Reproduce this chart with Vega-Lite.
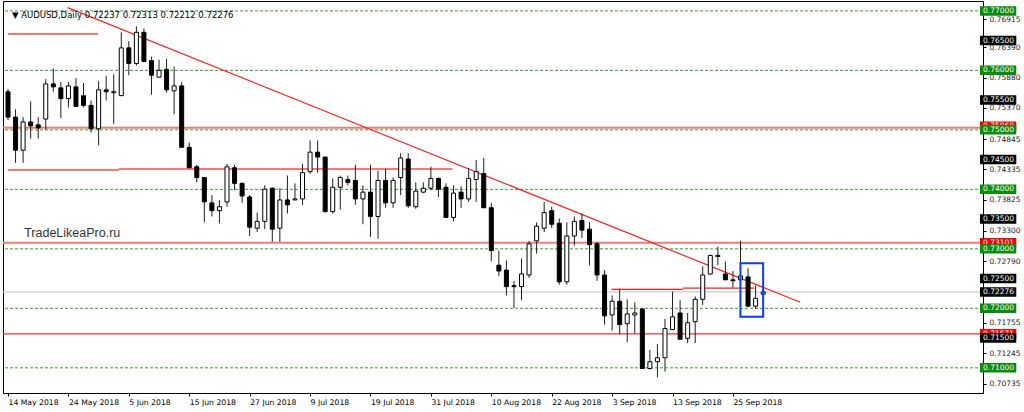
{
  "$schema": "https://vega.github.io/schema/vega-lite/v6.json",
  "width": 980,
  "height": 392,
  "autosize": "none",
  "padding": {"left": 3, "top": 1, "right": 41, "bottom": 19},
  "background": "#ffffff",
  "config": {"view": {"stroke": "#000000", "strokeWidth": 1}},
  "resolve": {"axis": {"x": "independent", "y": "independent"}},
  "datasets": {
    "candles": [
      {"i":0,"o":0.75641,"h":0.7569,"l":0.75165,"c":0.75215},
      {"i":1,"o":0.75215,"h":0.75346,"l":0.74445,"c":0.74658},
      {"i":2,"o":0.74658,"h":0.75215,"l":0.74445,"c":0.75133},
      {"i":3,"o":0.75133,"h":0.75477,"l":0.74854,"c":0.75067},
      {"i":4,"o":0.75084,"h":0.75215,"l":0.74854,"c":0.75034},
      {"i":5,"o":0.75182,"h":0.75853,"l":0.75002,"c":0.75772},
      {"i":6,"o":0.75772,"h":0.76034,"l":0.75641,"c":0.75722},
      {"i":7,"o":0.75706,"h":0.75804,"l":0.75198,"c":0.75526},
      {"i":8,"o":0.75526,"h":0.75804,"l":0.75378,"c":0.75739},
      {"i":9,"o":0.75722,"h":0.7587,"l":0.75395,"c":0.75395},
      {"i":10,"o":0.75575,"h":0.75788,"l":0.75378,"c":0.75411},
      {"i":11,"o":0.75411,"h":0.75493,"l":0.74953,"c":0.75018},
      {"i":12,"o":0.75018,"h":0.75821,"l":0.7474,"c":0.75673},
      {"i":13,"o":0.75673,"h":0.75903,"l":0.75493,"c":0.75641},
      {"i":14,"o":0.75624,"h":0.75935,"l":0.751,"c":0.75641},
      {"i":15,"o":0.75575,"h":0.7664,"l":0.75575,"c":0.76378},
      {"i":16,"o":0.76378,"h":0.76492,"l":0.75919,"c":0.76116},
      {"i":17,"o":0.76116,"h":0.76738,"l":0.76083,"c":0.7664},
      {"i":18,"o":0.7664,"h":0.76705,"l":0.76148,"c":0.76148},
      {"i":19,"o":0.76165,"h":0.7623,"l":0.75591,"c":0.75919},
      {"i":20,"o":0.75886,"h":0.76181,"l":0.75886,"c":0.76001},
      {"i":21,"o":0.76017,"h":0.76197,"l":0.75624,"c":0.75673},
      {"i":22,"o":0.75657,"h":0.76066,"l":0.75264,"c":0.75739},
      {"i":23,"o":0.75739,"h":0.75804,"l":0.74707,"c":0.74707},
      {"i":24,"o":0.74707,"h":0.74789,"l":0.74363,"c":0.74363},
      {"i":25,"o":0.74379,"h":0.74412,"l":0.74117,"c":0.74199},
      {"i":26,"o":0.74199,"h":0.74199,"l":0.73446,"c":0.7379},
      {"i":27,"o":0.73773,"h":0.73904,"l":0.73544,"c":0.73642},
      {"i":28,"o":0.73642,"h":0.73822,"l":0.73429,"c":0.73708},
      {"i":29,"o":0.7379,"h":0.74428,"l":0.73708,"c":0.74379},
      {"i":30,"o":0.74363,"h":0.74412,"l":0.73986,"c":0.74101},
      {"i":31,"o":0.74101,"h":0.74117,"l":0.73773,"c":0.73888},
      {"i":32,"o":0.73871,"h":0.73904,"l":0.73216,"c":0.73364},
      {"i":33,"o":0.73347,"h":0.73609,"l":0.73282,"c":0.73462},
      {"i":34,"o":0.73462,"h":0.74068,"l":0.73331,"c":0.74003},
      {"i":35,"o":0.74019,"h":0.74035,"l":0.73118,"c":0.73331},
      {"i":36,"o":0.73347,"h":0.74019,"l":0.73118,"c":0.73822},
      {"i":37,"o":0.73822,"h":0.74232,"l":0.73593,"c":0.7374},
      {"i":38,"o":0.73822,"h":0.74101,"l":0.73822,"c":0.73839},
      {"i":39,"o":0.73839,"h":0.74428,"l":0.7374,"c":0.74281},
      {"i":40,"o":0.74297,"h":0.74822,"l":0.74265,"c":0.74625},
      {"i":41,"o":0.74625,"h":0.74822,"l":0.74281,"c":0.74543},
      {"i":42,"o":0.74543,"h":0.74543,"l":0.73609,"c":0.73626},
      {"i":43,"o":0.73626,"h":0.74183,"l":0.73593,"c":0.74035},
      {"i":44,"o":0.74035,"h":0.74232,"l":0.73659,"c":0.74199},
      {"i":45,"o":0.74166,"h":0.74232,"l":0.74068,"c":0.74117},
      {"i":46,"o":0.7415,"h":0.74412,"l":0.7374,"c":0.73839},
      {"i":47,"o":0.73839,"h":0.74068,"l":0.73413,"c":0.73953},
      {"i":48,"o":0.73953,"h":0.74412,"l":0.732,"c":0.73544},
      {"i":49,"o":0.73544,"h":0.74314,"l":0.73167,"c":0.7415},
      {"i":50,"o":0.7415,"h":0.74346,"l":0.73691,"c":0.73773},
      {"i":51,"o":0.73773,"h":0.74199,"l":0.73691,"c":0.7415},
      {"i":52,"o":0.74199,"h":0.74609,"l":0.73904,"c":0.74527},
      {"i":53,"o":0.7451,"h":0.74609,"l":0.73691,"c":0.73724},
      {"i":54,"o":0.73708,"h":0.74117,"l":0.73675,"c":0.7397},
      {"i":55,"o":0.73953,"h":0.74117,"l":0.73937,"c":0.74019},
      {"i":56,"o":0.74019,"h":0.74379,"l":0.73986,"c":0.74183},
      {"i":57,"o":0.74183,"h":0.74199,"l":0.73871,"c":0.74003},
      {"i":58,"o":0.74035,"h":0.74101,"l":0.73528,"c":0.73528},
      {"i":59,"o":0.73528,"h":0.74068,"l":0.73462,"c":0.73937},
      {"i":60,"o":0.73953,"h":0.74052,"l":0.73691,"c":0.73839},
      {"i":61,"o":0.73839,"h":0.74363,"l":0.7379,"c":0.74183},
      {"i":62,"o":0.74166,"h":0.74494,"l":0.7379,"c":0.74297},
      {"i":63,"o":0.74265,"h":0.74527,"l":0.73691,"c":0.73691},
      {"i":64,"o":0.73691,"h":0.73773,"l":0.7279,"c":0.72971},
      {"i":65,"o":0.72725,"h":0.72971,"l":0.72545,"c":0.72627},
      {"i":66,"o":0.72643,"h":0.72807,"l":0.72217,"c":0.72365},
      {"i":67,"o":0.72381,"h":0.72463,"l":0.72004,"c":0.72365},
      {"i":68,"o":0.72365,"h":0.72839,"l":0.72135,"c":0.72577},
      {"i":69,"o":0.72561,"h":0.73134,"l":0.72512,"c":0.73085},
      {"i":70,"o":0.73134,"h":0.73446,"l":0.72921,"c":0.7338},
      {"i":71,"o":0.73347,"h":0.7379,"l":0.73282,"c":0.73609},
      {"i":72,"o":0.73642,"h":0.73708,"l":0.73347,"c":0.73413},
      {"i":73,"o":0.73429,"h":0.73511,"l":0.72397,"c":0.72446},
      {"i":74,"o":0.72446,"h":0.73446,"l":0.72397,"c":0.73216},
      {"i":75,"o":0.73216,"h":0.73544,"l":0.73052,"c":0.73462},
      {"i":76,"o":0.73478,"h":0.73593,"l":0.73184,"c":0.73315},
      {"i":77,"o":0.73331,"h":0.73446,"l":0.72725,"c":0.73069},
      {"i":78,"o":0.73085,"h":0.73118,"l":0.72463,"c":0.72561},
      {"i":79,"o":0.72561,"h":0.72643,"l":0.71726,"c":0.71873},
      {"i":80,"o":0.71889,"h":0.72217,"l":0.71627,"c":0.72119},
      {"i":81,"o":0.72119,"h":0.72332,"l":0.71562,"c":0.71726},
      {"i":82,"o":0.71742,"h":0.72152,"l":0.71431,"c":0.71906},
      {"i":83,"o":0.71889,"h":0.72102,"l":0.71578,"c":0.71922},
      {"i":84,"o":0.71988,"h":0.71988,"l":0.70989,"c":0.70989},
      {"i":85,"o":0.70989,"h":0.713,"l":0.70972,"c":0.71103},
      {"i":86,"o":0.71103,"h":0.71398,"l":0.70841,"c":0.71169},
      {"i":87,"o":0.71169,"h":0.71824,"l":0.70939,"c":0.7166},
      {"i":88,"o":0.71644,"h":0.72283,"l":0.71644,"c":0.71857},
      {"i":89,"o":0.71922,"h":0.72135,"l":0.7148,"c":0.7148},
      {"i":90,"o":0.71496,"h":0.71922,"l":0.71414,"c":0.71758},
      {"i":91,"o":0.71775,"h":0.72201,"l":0.71414,"c":0.72152},
      {"i":92,"o":0.72152,"h":0.72708,"l":0.72053,"c":0.72561},
      {"i":93,"o":0.72577,"h":0.72905,"l":0.72561,"c":0.72889},
      {"i":94,"o":0.72889,"h":0.73036,"l":0.72725,"c":0.72872},
      {"i":95,"o":0.72577,"h":0.7279,"l":0.72479,"c":0.72479},
      {"i":96,"o":0.72479,"h":0.72627,"l":0.72348,"c":0.72463},
      {"i":97,"o":0.72479,"h":0.73134,"l":0.72266,"c":0.72545},
      {"i":98,"o":0.72528,"h":0.72676,"l":0.72021,"c":0.72037},
      {"i":99,"o":0.72037,"h":0.72381,"l":0.71988,"c":0.72168},
      {"i":100,"o":0.72237,"h":0.72313,"l":0.72212,"c":0.72276}
    ]
  },
  "layer": [
    {
      "data": {"values": [{"p":0.77},{"p":0.76},{"p":0.75},{"p":0.74},{"p":0.73},{"p":0.72},{"p":0.71}]},
      "mark": {"type": "rule", "color": "#3a9a3a", "strokeWidth": 1, "strokeDash": [3, 2]},
      "encoding": {
        "y": {"field": "p", "type": "quantitative", "scale": {"domain": [0.70661, 0.77082], "nice": false, "zero": false},
          "axis": {"orient": "right", "values": [0.7686, 0.7639, 0.7588, 0.7537, 0.74845, 0.74335, 0.73825, 0.733, 0.7279, 0.71755, 0.71245, 0.70735],
            "labelExpr": "datum.value > 0.768 ? '0.76915' : format(datum.value, '.5f')",
            "title": null, "grid": false, "domain": false, "tickSize": 3, "tickColor": "#000000", "labelPadding": 3,
            "labelFont": "DejaVu Sans", "labelFontSize": 7.5, "labelColor": "#1a1a2a", "labelOverlap": false, "labelBound": false}}
      }
    },
    {
      "data": {"values": [{"p":0.72276}]},
      "mark": {"type": "rule", "color": "#c0c0c0", "strokeWidth": 1},
      "encoding": {"y": {"field": "p", "type": "quantitative", "scale": {"domain": [0.70661, 0.77082], "nice": false, "zero": false}, "axis": null}}
    },
    {
      "data": {"values": [{"p":0.75034},{"p":0.73101}]},
      "mark": {"type": "rule", "color": "#f47a7a", "strokeWidth": 2},
      "encoding": {"y": {"field": "p", "type": "quantitative", "scale": {"domain": [0.70661, 0.77082], "nice": false, "zero": false}, "axis": null}}
    },
    {
      "data": {"values": [{"p":0.71571}]},
      "mark": {"type": "rule", "color": "#ff3030", "strokeWidth": 1.4},
      "encoding": {"y": {"field": "p", "type": "quantitative", "scale": {"domain": [0.70661, 0.77082], "nice": false, "zero": false}, "axis": null}}
    },
    {
      "data": {"values": [
        {"i0":0,"i1":11.93,"p":0.76612},
        {"i0":0,"i1":14.68,"p":0.74325},
        {"i0":14.68,"i1":58.85,"p":0.74342}
      ]},
      "mark": {"type": "rule", "color": "#f47a7a", "strokeWidth": 2, "clip": true},
      "encoding": {
        "x": {"field": "i0", "type": "quantitative", "scale": {"domain": [0, 128.45], "nice": false, "zero": false}, "axis": null},
        "x2": {"field": "i1"},
        "y": {"field": "p", "type": "quantitative", "scale": {"domain": [0.70661, 0.77082], "nice": false, "zero": false}, "axis": null}
      }
    },
    {
      "data": {"values": [
        {"i0":79.91,"i1":89.39,"p":0.7232},
        {"i0":89.39,"i1":98.83,"p":0.7234}
      ]},
      "mark": {"type": "rule", "color": "#ff2020", "strokeWidth": 1.2},
      "encoding": {
        "x": {"field": "i0", "type": "quantitative", "scale": {"domain": [0, 128.45], "nice": false, "zero": false}, "axis": null},
        "x2": {"field": "i1"},
        "y": {"field": "p", "type": "quantitative", "scale": {"domain": [0.70661, 0.77082], "nice": false, "zero": false}, "axis": null}
      }
    },
    {
      "data": {"values": [{"i":7.9,"p":0.77054},{"i":104.9,"p":0.72102}]},
      "mark": {"type": "line", "color": "#ff2424", "strokeWidth": 1.2, "clip": true},
      "encoding": {
        "x": {"field": "i", "type": "quantitative", "scale": {"domain": [0, 128.45], "nice": false, "zero": false}, "axis": null},
        "y": {"field": "p", "type": "quantitative", "scale": {"domain": [0.70661, 0.77082], "nice": false, "zero": false}, "axis": null}
      }
    },
    {
      "data": {"name": "candles"},
      "mark": {"type": "rule", "color": "#1e1e1e", "strokeWidth": 1, "clip": true},
      "encoding": {
        "x": {"field": "i", "type": "quantitative", "scale": {"domain": [0, 128.45], "nice": false, "zero": false},
          "axis": {"orient": "bottom", "values": [0, 8, 16, 24, 32, 40, 48, 56, 64, 72, 80, 88, 96],
            "labelExpr": "['14 May 2018','24 May 2018','5 Jun 2018','15 Jun 2018','27 Jun 2018','9 Jul 2018','19 Jul 2018','31 Jul 2018','10 Aug 2018','22 Aug 2018','3 Sep 2018','13 Sep 2018','25 Sep 2018'][round(datum.value / 8)]",
            "title": null, "grid": false, "domain": false, "tickSize": 3, "tickColor": "#000000", "labelAlign": "left", "labelBaseline": "top",
            "labelPadding": 2, "labelFont": "DejaVu Sans", "labelFontSize": 7.7, "labelColor": "#000000", "labelOverlap": false, "labelBound": false, "labelFlush": false}},
        "y": {"field": "h", "type": "quantitative", "scale": {"domain": [0.70661, 0.77082], "nice": false, "zero": false}, "axis": null},
        "y2": {"field": "l"}
      }
    },
    {
      "data": {"name": "candles"},
      "mark": {"type": "bar", "size": 4, "stroke": "#000000", "strokeWidth": 1, "clip": true},
      "encoding": {
        "x": {"field": "i", "type": "quantitative", "scale": {"domain": [0, 128.45], "nice": false, "zero": false}, "axis": null},
        "y": {"field": "o", "type": "quantitative", "scale": {"domain": [0.70661, 0.77082], "nice": false, "zero": false}, "axis": null},
        "y2": {"field": "c"},
        "color": {"condition": {"test": "datum.c < datum.o", "value": "#000000"}, "value": "#ffffff"}
      }
    },
    {
      "data": {"values": [{"i0":96.99,"i1":100.0,"p0":0.72758,"p1":0.71857}]},
      "mark": {"type": "rect", "filled": false, "stroke": "#0a3cff", "strokeWidth": 2},
      "encoding": {
        "x": {"field": "i0", "type": "quantitative", "scale": {"domain": [0, 128.45], "nice": false, "zero": false}, "axis": null},
        "x2": {"field": "i1"},
        "y": {"field": "p0", "type": "quantitative", "scale": {"domain": [0.70661, 0.77082], "nice": false, "zero": false}, "axis": null},
        "y2": {"field": "p1"}
      }
    },
    {
      "data": {"values": [{"t": "▼ AUDUSD,Daily  0.72237 0.72313 0.72212 0.72276"}]},
      "mark": {"type": "text", "align": "left", "baseline": "alphabetic", "font": "DejaVu Sans", "fontSize": 8.5, "color": "#000000"},
      "encoding": {
        "x": {"datum": 0.52, "type": "quantitative", "scale": {"domain": [0, 128.45], "nice": false, "zero": false}, "axis": null},
        "y": {"datum": 0.76881, "type": "quantitative", "scale": {"domain": [0.70661, 0.77082], "nice": false, "zero": false}, "axis": null},
        "text": {"field": "t"}
      }
    },
    {
      "data": {"values": [{"t": "TradeLikeaPro.ru"}]},
      "mark": {"type": "text", "align": "left", "baseline": "alphabetic", "font": "Liberation Sans", "fontSize": 12.5, "color": "#333333"},
      "encoding": {
        "x": {"datum": 2.14, "type": "quantitative", "scale": {"domain": [0, 128.45], "nice": false, "zero": false}, "axis": null},
        "y": {"datum": 0.732, "type": "quantitative", "scale": {"domain": [0.70661, 0.77082], "nice": false, "zero": false}, "axis": null},
        "text": {"field": "t"}
      }
    },
    {
      "data": {"values": [{"p":0.7506,"k":"red"},{"p":0.73101,"k":"red"},{"p":0.71571,"k":"red"}]},
      "layer": [
        {
          "mark": {"type": "bar", "size": 9.5},
          "encoding": {
            "x": {"datum": 128.71, "type": "quantitative", "scale": {"domain": [0, 128.45], "nice": false, "zero": false}, "axis": null},
            "x2": {"datum": 133.52},
            "y": {"field": "p", "type": "quantitative", "scale": {"domain": [0.70661, 0.77082], "nice": false, "zero": false}, "axis": null},
            "color": {"value": "#ff0000"}
          }
        },
        {
          "mark": {"type": "text", "align": "left", "baseline": "middle", "font": "DejaVu Sans", "fontSize": 7.5, "color": "#ffffff"},
          "encoding": {
            "x": {"datum": 129.11, "type": "quantitative", "scale": {"domain": [0, 128.45], "nice": false, "zero": false}, "axis": null},
            "y": {"field": "p", "type": "quantitative", "scale": {"domain": [0.70661, 0.77082], "nice": false, "zero": false}, "axis": null},
            "text": {"field": "p", "format": ".5f"}
          }
        }
      ]
    },
    {
      "data": {"values": [
        {"p":0.77,"k":"g"},{"p":0.765,"k":"b"},{"p":0.76,"k":"g"},{"p":0.755,"k":"b"},{"p":0.75,"k":"g"},
        {"p":0.745,"k":"b"},{"p":0.74,"k":"g"},{"p":0.735,"k":"b"},{"p":0.73,"k":"g"},{"p":0.725,"k":"b"},
        {"p":0.72276,"k":"b"},{"p":0.72,"k":"g"},{"p":0.715,"k":"b"},{"p":0.71,"k":"g"}
      ]},
      "layer": [
        {
          "mark": {"type": "bar", "size": 9.5},
          "encoding": {
            "x": {"datum": 128.71, "type": "quantitative", "scale": {"domain": [0, 128.45], "nice": false, "zero": false}, "axis": null},
            "x2": {"datum": 133.52},
            "y": {"field": "p", "type": "quantitative", "scale": {"domain": [0.70661, 0.77082], "nice": false, "zero": false}, "axis": null},
            "color": {"field": "k", "type": "nominal", "scale": {"domain": ["g", "b"], "range": ["#0b8a0b", "#000000"]}, "legend": null}
          }
        },
        {
          "mark": {"type": "text", "align": "left", "baseline": "middle", "font": "DejaVu Sans", "fontSize": 7.5, "color": "#ffffff"},
          "encoding": {
            "x": {"datum": 129.11, "type": "quantitative", "scale": {"domain": [0, 128.45], "nice": false, "zero": false}, "axis": null},
            "y": {"field": "p", "type": "quantitative", "scale": {"domain": [0.70661, 0.77082], "nice": false, "zero": false}, "axis": null},
            "text": {"field": "p", "format": ".5f"}
          }
        }
      ]
    }
  ]
}
